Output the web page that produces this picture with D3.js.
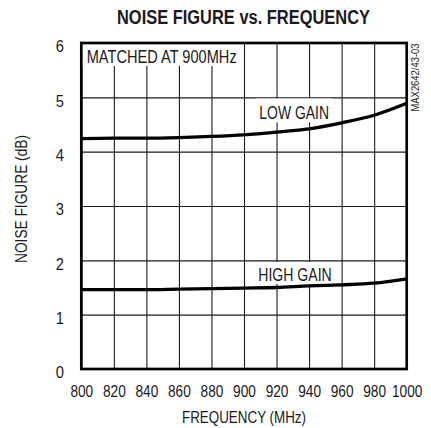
<!DOCTYPE html>
<html><head><meta charset="utf-8">
<script src="https://cdn.jsdelivr.net/npm/d3@7"></script>
<style>
body{margin:0;background:#fff}
text{font-family:"Liberation Sans Narrow","Arial Narrow","Liberation Sans",sans-serif;fill:#1a1a1a}
</style>
</head><body><svg id="c" width="431" height="428"></svg>
<script>
const freqs = [800, 820, 840, 860, 880, 900, 920, 940, 960, 980, 1000];
const lowGain = [4.24, 4.25, 4.25, 4.26, 4.28, 4.31, 4.36, 4.42, 4.53, 4.67, 4.89];
const highGain = [1.46, 1.46, 1.46, 1.47, 1.48, 1.49, 1.50, 1.53, 1.55, 1.58, 1.66];
const xTicks = [800, 820, 840, 860, 880, 900, 920, 940, 960, 980, 1000];
const yTicks = [0, 1, 2, 3, 4, 5, 6];
const title = "NOISE FIGURE vs. FREQUENCY";
const xLabel = "FREQUENCY (MHz)";
const yLabel = "NOISE FIGURE (dB)";
const note = "MATCHED AT 900MHz";
const seriesLabels = ["LOW GAIN", "HIGH GAIN"];
const partNo = "MAX2642/43-03";

const svg = d3.select("#c");
const L = 81.3, R = 406.7, T = 43, B = 369;
const x = d3.scaleLinear().domain([800, 1000]).range([L, R]);
const y = d3.scaleLinear().domain([0, 6]).range([B, T]);

// grid
const grid = svg.append("g");
grid.append("g").attr("transform", `translate(0,${B})`)
  .call(d3.axisBottom(x).tickValues(xTicks).tickSize(-(B - T)).tickFormat(""))
  .call(g => { g.select(".domain").remove(); g.selectAll("line").attr("stroke", "#1a1a1a").attr("stroke-width", 1.1); });
grid.append("g").attr("transform", `translate(${L},0)`)
  .call(d3.axisLeft(y).tickValues(yTicks).tickSize(-(R - L)).tickFormat(""))
  .call(g => { g.select(".domain").remove(); g.selectAll("line").attr("stroke", "#1a1a1a").attr("stroke-width", 1.1); });

const digitW = 7.6;
// tick labels
svg.append("g").attr("transform", `translate(0,${B})`)
  .call(d3.axisBottom(x).tickValues(xTicks).tickSize(0).tickPadding(0).tickFormat(d3.format("d")))
  .call(g => {
    g.select(".domain").remove();
    g.selectAll("text").attr("y", 28.3).attr("dy", 0).attr("font-size", 17)
      .style("font-family", '"Liberation Sans",sans-serif').attr("fill", "#1a1a1a")
      .attr("textLength", d => String(d).length * digitW).attr("lengthAdjust", "spacingAndGlyphs");
  });
svg.append("g").attr("transform", `translate(64,0)`)
  .call(d3.axisLeft(y).tickValues(yTicks).tickSize(0).tickPadding(0).tickFormat(d3.format("d")))
  .call(g => {
    g.select(".domain").remove();
    g.selectAll("text").attr("x", 0).attr("dy", 8.8).attr("font-size", 17)
      .style("font-family", '"Liberation Sans",sans-serif').attr("fill", "#1a1a1a")
      .attr("textLength", 8.2).attr("lengthAdjust", "spacingAndGlyphs");
  });

// label boxes
svg.append("rect").attr("x", L).attr("y", T).attr("width", 240 - L).attr("height", 66 - T).attr("fill", "#fff");
svg.append("rect").attr("x", 256).attr("y", 98.5).attr("width", 76).attr("height", 24).attr("fill", "#fff");
svg.append("rect").attr("x", 255.5).attr("y", 262).attr("width", 79).attr("height", 22).attr("fill", "#fff");

// curves
const line = d3.line().x((d, i) => x(freqs[i])).y(d => y(d)).curve(d3.curveMonotoneX);
[lowGain, highGain].forEach(s => {
  svg.append("path").datum(s).attr("d", line).attr("fill", "none")
    .attr("stroke", "#000").attr("stroke-width", 3.3).attr("stroke-linecap", "butt");
});

// frame
svg.append("rect").attr("x", L).attr("y", T).attr("width", R - L).attr("height", B - T)
  .attr("fill", "none").attr("stroke", "#000").attr("stroke-width", 2.7);

// texts
svg.append("text").attr("x", 243.5).attr("y", 24).attr("text-anchor", "middle")
  .attr("font-size", 19.5).attr("font-weight", "bold").attr("fill", "#000")
  .attr("textLength", 253).attr("lengthAdjust", "spacingAndGlyphs").text(title);
svg.append("text").attr("x", 86.7).attr("y", 62.5).attr("font-size", 18.5)
  .attr("textLength", 150).attr("lengthAdjust", "spacingAndGlyphs").text(note);
svg.append("text").attr("x", 259.3).attr("y", 119.3).attr("font-size", 18.5)
  .attr("textLength", 69.7).attr("lengthAdjust", "spacingAndGlyphs").text(seriesLabels[0]);
svg.append("text").attr("x", 258.3).attr("y", 280.7).attr("font-size", 18.5)
  .attr("textLength", 73.4).attr("lengthAdjust", "spacingAndGlyphs").text(seriesLabels[1]);
svg.append("text").attr("x", 244).attr("y", 422.5).attr("text-anchor", "middle").attr("font-size", 17)
  .attr("textLength", 124).attr("lengthAdjust", "spacingAndGlyphs").text(xLabel);
svg.append("text").attr("transform", "translate(27.3,199) rotate(-90)").attr("text-anchor", "middle")
  .attr("font-size", 16.5).attr("textLength", 128).attr("lengthAdjust", "spacingAndGlyphs").text(yLabel);
svg.append("text").attr("transform", "translate(419,77.5) rotate(-90)").attr("text-anchor", "middle")
  .attr("font-size", 10).attr("textLength", 68).attr("lengthAdjust", "spacingAndGlyphs").text(partNo);
</script>
</body></html>
